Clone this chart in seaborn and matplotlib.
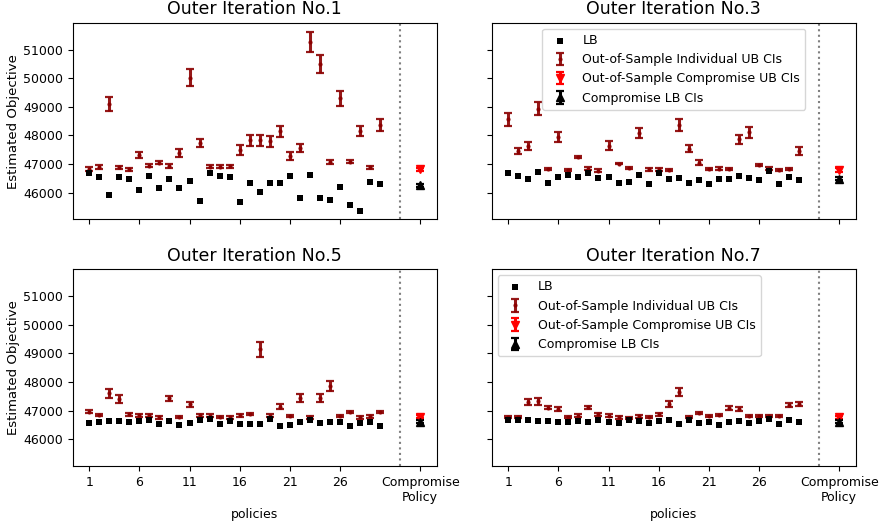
import numpy as np
import pandas as pd
import matplotlib
matplotlib.use('Agg')
import matplotlib.pyplot as plt
import seaborn as sns

sns.set_style("ticks", {"axes.edgecolor": "black", "xtick.color": "black",
                        "ytick.color": "black", "text.color": "black",
                        "axes.labelcolor": "black"})
plt.rcParams['font.family'] = ['DejaVu Sans']
plt.rcParams['font.size'] = 9

# data: 30 policies per outer iteration
policies = list(range(1, 31))
iterations = [1, 3, 5, 7]

lb = {
    1: [46698, 46535, 45919, 46547, 46488, 46081, 46581, 46174, 46465, 46163,
        46407, 45721, 46674, 46570, 46547, 45686, 46337, 46012, 46326, 46337,
        46581, 45826, 46605, 45826, 45756, 46186, 45558, 45372, 46384, 46291],
    3: [46698, 46581, 46488, 46721, 46326, 46535, 46628, 46535, 46698, 46512,
        46535, 46349, 46384, 46628, 46302, 46698, 46488, 46512, 46349, 46453,
        46302, 46465, 46488, 46581, 46512, 46430, 46744, 46302, 46547, 46442],
    5: [46559, 46594, 46618, 46618, 46594, 46641, 46676, 46524, 46629, 46478,
        46559, 46664, 46699, 46524, 46641, 46513, 46524, 46524, 46688, 46443,
        46490, 46594, 46653, 46548, 46594, 46583, 46443, 46548, 46606, 46455],
    7: [46664, 46664, 46664, 46641, 46629, 46583, 46583, 46629, 46606, 46676,
        46583, 46559, 46664, 46641, 46571, 46618, 46664, 46524, 46664, 46548,
        46594, 46478, 46583, 46641, 46559, 46641, 46711, 46513, 46653, 46606],
}

ub_mean = {
    1: [46826, 46895, 49093, 46884, 46814, 47326, 46942, 47047, 46942, 47384,
        50023, 47733, 46907, 46907, 46919, 47488, 47826, 47826, 47791, 48151,
        47279, 47558, 51279, 50500, 47070, 49302, 47081, 48140, 46884, 48360],
    3: [48558, 47453, 47628, 48930, 46814, 47942, 46779, 47244, 46837, 46767,
        47640, 47012, 46860, 48081, 46814, 46814, 46791, 48360, 47535, 47047,
        46826, 46837, 46814, 47860, 48105, 46965, 46837, 46779, 46814, 47465],
    5: [46956, 46839, 47597, 47387, 46862, 46828, 46839, 46758, 47422, 46769,
        47212, 46828, 46816, 46769, 46769, 46828, 46874, 49135, 46816, 47131,
        46804, 47422, 46758, 47422, 47853, 46816, 46944, 46758, 46793, 46956],
    7: [46781, 46781, 47294, 47317, 47096, 47049, 46781, 46816, 47108, 46862,
        46816, 46758, 46746, 46793, 46769, 46874, 47224, 47643, 46781, 46909,
        46804, 46851, 47084, 47049, 46816, 46816, 46804, 46816, 47189, 47212],
}

ub_err = {
    1: [70, 70, 244, 60, 60, 100, 60, 60, 70, 140,
        285, 150, 50, 50, 60, 163, 180, 180, 180, 190,
        130, 140, 350, 300, 80, 260, 50, 175, 50, 220],
    3: [225, 110, 150, 230, 40, 175, 40, 50, 50, 40,
        150, 30, 35, 185, 50, 50, 50, 215, 130, 100,
        40, 50, 40, 150, 185, 30, 60, 40, 40, 140],
    5: [50, 40, 150, 140, 45, 50, 50, 40, 100, 40,
        100, 50, 50, 40, 50, 50, 40, 270, 50, 80,
        40, 140, 40, 140, 175, 40, 40, 40, 40, 30],
    7: [40, 40, 100, 110, 50, 70, 40, 50, 60, 60,
        50, 40, 40, 40, 40, 50, 100, 140, 40, 40,
        40, 40, 60, 70, 40, 40, 40, 40, 80, 70],
}

comp_ub = {1: 46814, 3: 46791, 5: 46781, 7: 46769}
comp_ub_err = {1: 60, 3: 60, 5: 50, 7: 50}
comp_lb = {1: 46256, 3: 46477, 5: 46606, 7: 46606}
comp_lb_err = {1: 60, 3: 50, 5: 50, 7: 50}

comp_x = 34
split_x = 32
tick_pos = [1, 6, 11, 16, 21, 26, comp_x]
tick_labels = ['1', '6', '11', '16', '21', '26', 'Compromise\nPolicy']

fig, axes = plt.subplots(2, 2, figsize=(8.81, 5.22), dpi=100, sharex=True, sharey=True)
fig.subplots_adjust(left=0.0825, right=0.9713, top=0.9565, bottom=0.1073,
                    wspace=0.151, hspace=0.253)

for ax, it in zip(axes.flat, iterations):
    df = pd.DataFrame({"policy": policies, "LB": lb[it],
                       "UB": ub_mean[it], "err": ub_err[it]})
    sns.scatterplot(data=df, x="policy", y="LB", ax=ax, color="black", marker="s",
                    s=16, linewidth=0, label="LB", zorder=3)
    ax.errorbar(df["policy"], df["UB"], yerr=df["err"], fmt=".", color="darkred",
                ecolor="darkred", elinewidth=2.2, capsize=3, capthick=1.6,
                markersize=4, alpha=0.9, label="Out-of-Sample Individual UB CIs")
    ax.errorbar([comp_x], [comp_ub[it]], yerr=[comp_ub_err[it]], fmt="v", color="red",
                elinewidth=2.2, capsize=3, capthick=1.6, markersize=6,
                label="Out-of-Sample Compromise UB CIs")
    ax.errorbar([comp_x], [comp_lb[it]], yerr=[comp_lb_err[it]], fmt="^", color="black",
                elinewidth=2.2, capsize=3, capthick=1.6, markersize=6,
                label="Compromise LB CIs")
    ax.axvline(split_x, color="gray", linestyle=":", linewidth=1.5)
    ax.set_title(f"Outer Iteration No.{it}", fontsize=12.5)
    ax.set_xlabel("policies", labelpad=3)
    ax.set_ylabel("Estimated Objective", fontsize=9.5, labelpad=2)
    ax.set_xticks(tick_pos)
    ax.set_xticklabels(tick_labels)
    ax.xaxis.set_tick_params(labelbottom=(it in (5, 7)))
    ax.set_yticks([46000, 47000, 48000, 49000, 50000, 51000])
    if it in (3, 7):
        loc = "upper center" if it == 3 else "upper left"
        ax.legend(loc=loc, fontsize=9)
    else:
        ax.get_legend().remove()

plt.savefig("out.png", dpi=100)
plt.close()
